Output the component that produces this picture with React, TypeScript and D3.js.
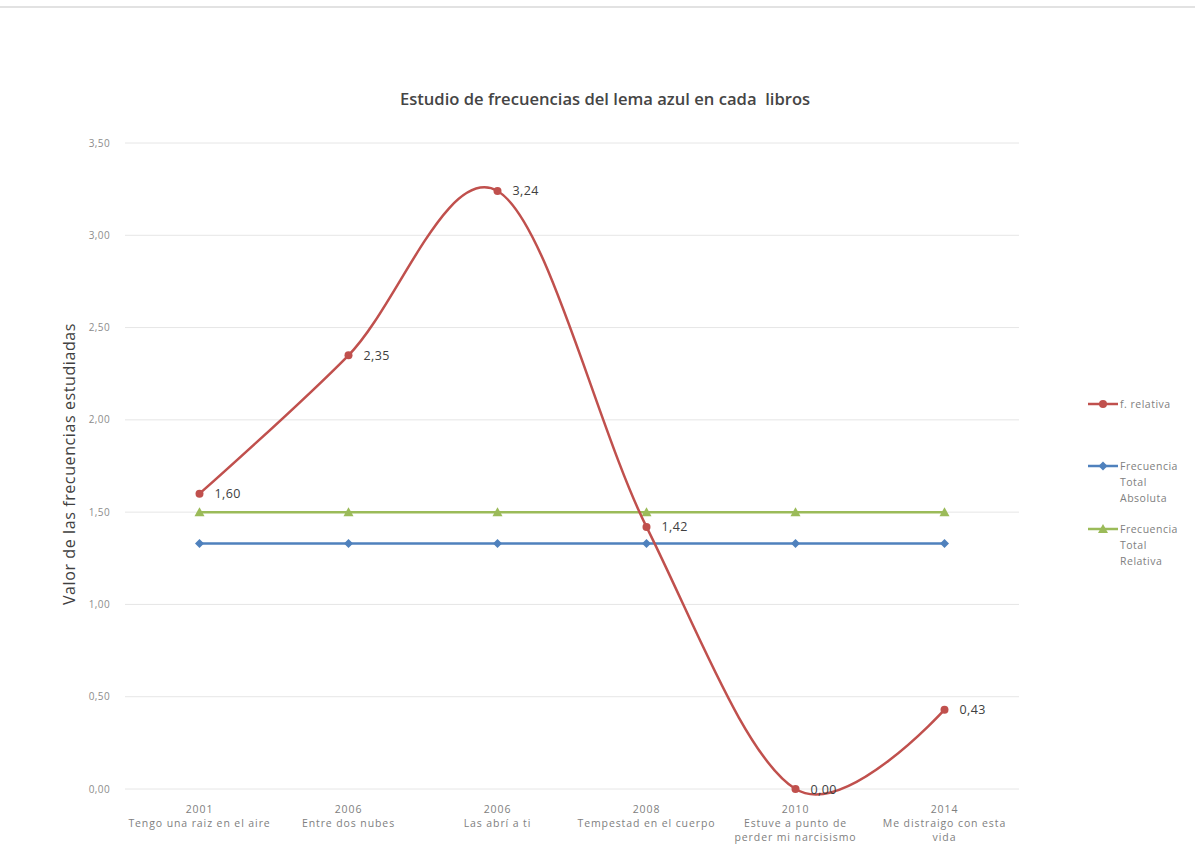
import React from "react";
import * as d3 from "d3";

// Books studied (year + title) and the frequency series
const years = ["2001", "2006", "2006", "2008", "2010", "2014"];
const titles = [
  ["Tengo una raiz en el aire"],
  ["Entre dos nubes"],
  ["Las abrí a ti"],
  ["Tempestad en el cuerpo"],
  ["Estuve a punto de", "perder mi narcisismo"],
  ["Me distraigo con esta", "vida"],
];
const relativa = [1.6, 2.35, 3.24, 1.42, 0.0, 0.43];
const totalAbsoluta = [1.33, 1.33, 1.33, 1.33, 1.33, 1.33];
const totalRelativa = [1.5, 1.5, 1.5, 1.5, 1.5, 1.5];
const yTicks = [0, 0.5, 1, 1.5, 2, 2.5, 3, 3.5];

const W = 1195;
const H = 847;
const FONT = "'Open Sans', 'Liberation Sans', sans-serif";

const RED = "#C0504D";
const BLUE = "#4F81BD";
const GREEN = "#9BBB59";

const fmt = (v: number) => v.toFixed(2).replace(".", ",");

export default function App() {
  const idx = years.map((_, i) => String(i));
  const x = d3.scaleBand<string>().domain(idx).range([125, 1019]);
  const cx = (i: number) => (x(String(i)) as number) + x.bandwidth() / 2;
  const y = d3.scaleLinear().domain([0, 3.5]).range([789, 143]);

  const straight = d3
    .line<number>()
    .x((_, i) => cx(i))
    .y((d) => y(d));
  const smooth = d3
    .line<number>()
    .x((_, i) => cx(i))
    .y((d) => y(d))
    .curve(d3.curveCardinal.tension(0));

  const circle = (px: number, py: number, c: string, k: string) => (
    <circle key={k} cx={px} cy={py} r={4} fill={c} />
  );
  const diamond = (px: number, py: number, c: string, k: string) => (
    <path
      key={k}
      d={`M${px},${py - 4.5}L${px + 4.5},${py}L${px},${py + 4.5}L${px - 4.5},${py}Z`}
      fill={c}
    />
  );
  const triangle = (px: number, py: number, c: string, k: string) => (
    <path
      key={k}
      d={`M${px},${py - 5}L${px + 5},${py + 4}L${px - 5},${py + 4}Z`}
      fill={c}
    />
  );

  const legend = [
    { lines: ["f. relativa"], color: RED, marker: circle, y: 404 },
    { lines: ["Frecuencia", "Total", "Absoluta"], color: BLUE, marker: diamond, y: 466 },
    { lines: ["Frecuencia", "Total", "Relativa"], color: GREEN, marker: triangle, y: 529 },
  ];

  return (
    <svg
      width={W}
      height={H}
      style={{ position: "absolute", left: 0, top: 0, background: "#fff" }}
      fontFamily={FONT}
    >
      <rect x={0} y={0} width={W} height={H} fill="#fff" />
      <line x1={0} x2={W} y1={7} y2={7} stroke="#e2e2e2" strokeWidth={2} />

      {/* Title */}
      <text x={605} y={105} textAnchor="middle" fontSize={16.6} fontWeight={600} fill="#454545">
        Estudio de frecuencias del lema azul en cada{"\u00a0\u00a0"}libros
      </text>

      {/* Grid and y ticks */}
      {yTicks.map((t) => (
        <g key={t}>
          <line x1={125} x2={1019} y1={y(t)} y2={y(t)} stroke="#e6e6e6" strokeWidth={1} />
          <text x={110} y={y(t) + 3.5} textAnchor="end" fontSize={10} letterSpacing={0.4} fill="#8c8c8c">
            {fmt(t)}
          </text>
        </g>
      ))}

      {/* Y axis title */}
      <text
        transform={`translate(75,464) rotate(-90)`}
        textAnchor="middle"
        fontSize={16}
        letterSpacing={0.6}
        fill="#404040"
      >
        Valor de las frecuencias estudiadas
      </text>

      {/* X category labels */}
      {years.map((yr, i) => (
        <text key={i} textAnchor="middle" fontSize={10.5} letterSpacing={0.9} fill="#808080">
          <tspan x={cx(i)} y={813}>
            {yr}
          </tspan>
          {titles[i].map((l, j) => (
            <tspan key={j} x={cx(i)} y={827 + j * 14}>
              {l}
            </tspan>
          ))}
        </text>
      ))}

      {/* Constant reference series */}
      <path d={straight(totalRelativa) || ""} fill="none" stroke={GREEN} strokeWidth={2.5} />
      {totalRelativa.map((v, i) => triangle(cx(i), y(v), GREEN, "g" + i))}
      <path d={straight(totalAbsoluta) || ""} fill="none" stroke={BLUE} strokeWidth={2.5} />
      {totalAbsoluta.map((v, i) => diamond(cx(i), y(v), BLUE, "b" + i))}

      {/* Smoothed relative frequency series */}
      <path d={smooth(relativa) || ""} fill="none" stroke={RED} strokeWidth={2.5} />
      {relativa.map((v, i) => circle(cx(i), y(v), RED, "r" + i))}
      {relativa.map((v, i) => (
        <text key={"l" + i} x={cx(i) + 15} y={y(v) + 4.5} fontSize={12.5} letterSpacing={0.4} fill="#404040">
          {fmt(v)}
        </text>
      ))}

      {/* Legend */}
      {legend.map((l, k) => (
        <g key={k}>
          <line x1={1088} x2={1118} y1={l.y} y2={l.y} stroke={l.color} strokeWidth={2.5} />
          {l.marker(1103, l.y, l.color, "m")}
          <text fontSize={10.5} letterSpacing={0.5} fill="#808080">
            {l.lines.map((s, j) => (
              <tspan key={j} x={1120} y={l.y + 3.5 + j * 16}>
                {s}
              </tspan>
            ))}
          </text>
        </g>
      ))}
    </svg>
  );
}
